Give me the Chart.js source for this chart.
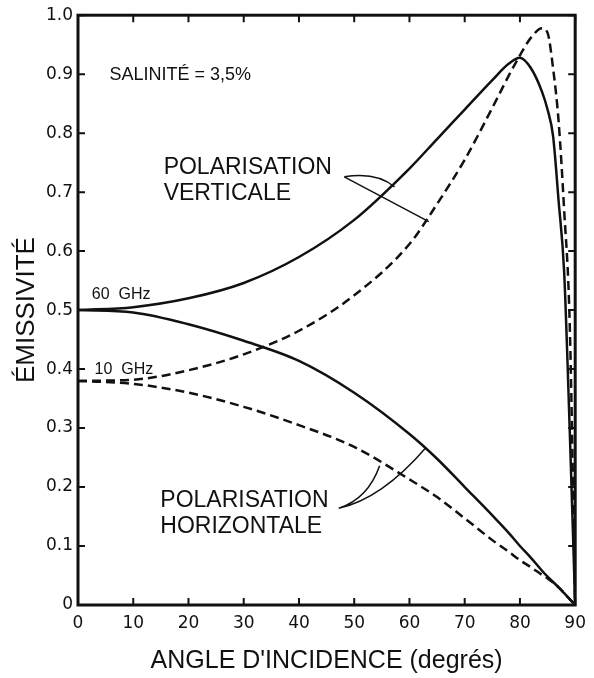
<!DOCTYPE html>
<html>
<head>
<meta charset="utf-8">
<script src="https://cdn.jsdelivr.net/npm/chart.js@4"></script>
<style>
  html, body { margin: 0; padding: 0; background: #fff; }
  canvas { display: block; }
</style>
</head>
<body>
<canvas id="emissChart" width="594" height="678"></canvas>
<script>
// angle d'incidence (degrés)
const angles = [0, 10, 20, 30, 40, 50, 60, 65, 70, 75, 78, 80, 82, 84, 85, 86, 87, 88, 89, 90];
// polarisation verticale
const vert60 = [0.50, 0.505, 0.52, 0.546, 0.59, 0.653, 0.74, 0.79, 0.84, 0.89, 0.918, 0.928, 0.91, 0.87, 0.84, 0.795, 0.685, 0.565, 0.30, 0];
const vert10 = [0.38, 0.382, 0.398, 0.425, 0.465, 0.525, 0.612, 0.68, 0.755, 0.843, 0.898, 0.932, 0.962, 0.978, 0.97, 0.91, 0.82, 0.67, 0.48, 0];
// polarisation horizontale
const horiz60 = [0.50, 0.496, 0.476, 0.448, 0.414, 0.36, 0.29, 0.248, 0.20, 0.152, 0.122, 0.10, 0.08, 0.058, 0.048, 0.039, 0.03, 0.02, 0.01, 0];
const horiz10 = [0.38, 0.375, 0.36, 0.336, 0.305, 0.268, 0.213, 0.183, 0.147, 0.11, 0.09, 0.076, 0.064, 0.051, 0.045, 0.038, 0.03, 0.02, 0.01, 0];

const xTicks = [0, 10, 20, 30, 40, 50, 60, 70, 80, 90];
const yTicks = [0, 0.1, 0.2, 0.3, 0.4, 0.5, 0.6, 0.7, 0.8, 0.9, 1.0];

const INK = '#111';

function toPoints(vals) {
    return angles.map((a, i) => ({ x: a, y: vals[i] }));
}

function curve(vals, dashed) {
    return {
        data: toPoints(vals),
        borderColor: INK,
        borderWidth: 2.5,
        borderDash: dashed ? [9, 5] : [],
        pointRadius: 0,
        cubicInterpolationMode: 'monotone',
        fill: false
    };
}

// frame, inward ticks, labels and leader lines
const decorPlugin = {
    id: 'decor',
    afterDraw(chart) {
        const { ctx, chartArea: a, scales: { x, y } } = chart;
        const px = v => x.getPixelForValue(v);
        const py = v => y.getPixelForValue(v);

        ctx.save();
        ctx.strokeStyle = INK;
        ctx.lineWidth = 3;
        ctx.strokeRect(a.left, a.top, a.right - a.left, a.bottom - a.top);

        ctx.lineWidth = 2;
        ctx.beginPath();
        xTicks.forEach(v => {
            ctx.moveTo(px(v), a.bottom); ctx.lineTo(px(v), a.bottom - 7);
            ctx.moveTo(px(v), a.top); ctx.lineTo(px(v), a.top + 7);
        });
        yTicks.forEach(v => {
            ctx.moveTo(a.left, py(v)); ctx.lineTo(a.left + 7, py(v));
            ctx.moveTo(a.right, py(v)); ctx.lineTo(a.right - 7, py(v));
        });
        ctx.stroke();

        ctx.fillStyle = INK;
        ctx.textBaseline = 'alphabetic';
        ctx.textAlign = 'left';
        ctx.font = '18px "Liberation Sans", Arial, sans-serif';
        ctx.fillText('SALINITÉ = 3,5%', px(5.7), py(0.89));
        ctx.font = '16px "Liberation Sans", Arial, sans-serif';
        ctx.fillText('60  GHz', px(2.5), py(0.519));
        ctx.fillText('10  GHz', px(3.0), py(0.392));

        ctx.font = '23px "Liberation Sans", Arial, sans-serif';
        ctx.fillText('POLARISATION', px(15.5), py(0.731));
        ctx.fillText('VERTICALE', px(15.5), py(0.6875));
        ctx.fillText('POLARISATION', px(14.9), py(0.1655));
        ctx.fillText('HORIZONTALE', px(14.9), py(0.1216));

        // leader lines
        ctx.lineWidth = 1.5;
        ctx.beginPath();
        ctx.moveTo(px(48.2), py(0.726));
        ctx.quadraticCurveTo(px(54), py(0.735), px(57.3), py(0.709));
        ctx.moveTo(px(48.2), py(0.726));
        ctx.lineTo(px(63.5), py(0.65));
        ctx.moveTo(px(47.2), py(0.164));
        ctx.quadraticCurveTo(px(52.5), py(0.18), px(54.6), py(0.236));
        ctx.moveTo(px(47.2), py(0.164));
        ctx.quadraticCurveTo(px(55), py(0.18), px(63), py(0.267));
        ctx.stroke();
        ctx.restore();
    }
};

const ctx = document.getElementById('emissChart').getContext('2d');
const emissChart = new Chart(ctx, {
    type: 'line',
    data: {
        datasets: [
            curve(vert60, false),
            curve(vert10, true),
            curve(horiz60, false),
            curve(horiz10, true)
        ]
    },
    options: {
        responsive: false,
        animation: false,
        layout: { padding: { left: 0, top: 13, right: 10, bottom: 0 } },
        plugins: { legend: { display: false }, tooltip: { enabled: false } },
        scales: {
            x: {
                type: 'linear',
                min: 0,
                max: 90,
                afterFit: s => { s.height = 73; },
                afterBuildTicks: s => { s.ticks = xTicks.map(v => ({ value: v })); },
                grid: { display: false, drawTicks: false },
                border: { display: false },
                ticks: {
                    color: INK,
                    padding: 8,
                    maxRotation: 0,
                    font: { family: '"DejaVu Sans", sans-serif', size: 17 },
                    callback: v => String(v)
                },
                title: {
                    display: true,
                    text: "ANGLE D'INCIDENCE (degrés)",
                    color: INK,
                    padding: { bottom: 2 },
                    font: { family: '"Liberation Sans", Arial, sans-serif', size: 25 }
                }
            },
            y: {
                type: 'linear',
                min: 0,
                max: 1,
                afterFit: s => { s.width = 78; },
                afterBuildTicks: s => { s.ticks = yTicks.map(v => ({ value: v })); },
                grid: { display: false, drawTicks: false },
                border: { display: false },
                ticks: {
                    color: INK,
                    padding: 5,
                    font: { family: '"DejaVu Sans", sans-serif', size: 17 },
                    callback: v => v === 0 ? '0' : v.toFixed(1)
                },
                title: {
                    display: true,
                    text: 'ÉMISSIVITÉ',
                    color: INK,
                    padding: { top: 11 },
                    font: { family: '"Liberation Sans", Arial, sans-serif', size: 26 }
                }
            }
        }
    },
    plugins: [decorPlugin]
});
</script>
</body>
</html>
